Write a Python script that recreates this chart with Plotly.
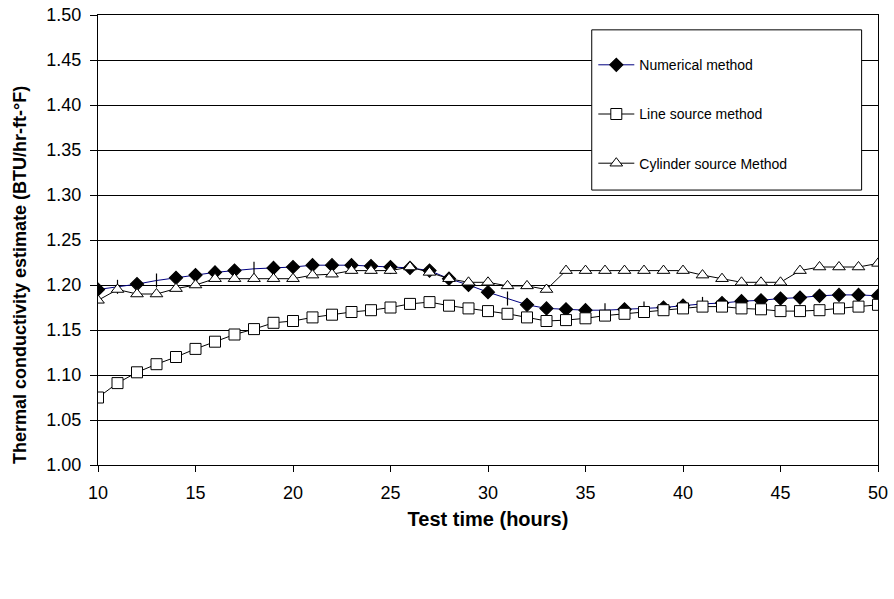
import plotly.graph_objects as go

hours = list(range(10, 51))

numerical = [1.195, 1.198, 1.201, 1.205, 1.208, 1.211, 1.214, 1.216, 1.218, 1.219,
             1.220, 1.222, 1.222, 1.222, 1.221, 1.220, 1.219, 1.216, 1.207, 1.200,
             1.192, 1.185, 1.178, 1.174, 1.173, 1.172, 1.172, 1.173, 1.174, 1.175,
             1.177, 1.179, 1.180, 1.182, 1.183, 1.185, 1.186, 1.188, 1.189, 1.189,
             1.188]
numerical_sym = ["diamond", "line-ns", "diamond", "line-ns", "diamond", "diamond", "diamond",
                 "diamond", "line-ns", "diamond", "diamond", "diamond", "diamond", "diamond",
                 "diamond", "diamond", "diamond", "diamond", "diamond", "diamond", "diamond",
                 "line-ns", "diamond", "diamond", "diamond", "diamond", "line-ns", "diamond",
                 "line-ns", "diamond", "diamond", "line-ns", "diamond", "diamond", "diamond",
                 "diamond", "diamond", "diamond", "diamond", "diamond", "diamond"]

line_source = [1.075, 1.091, 1.103, 1.112, 1.120, 1.129, 1.137, 1.145, 1.151, 1.158,
               1.160, 1.164, 1.167, 1.170, 1.172, 1.175, 1.179, 1.181, 1.177, 1.174,
               1.171, 1.168, 1.164, 1.160, 1.161, 1.163, 1.166, 1.168, 1.170, 1.172,
               1.174, 1.176, 1.176, 1.174, 1.173, 1.171, 1.171, 1.172, 1.174, 1.176,
               1.178]

cylinder = [1.183, 1.195, 1.190, 1.190, 1.196, 1.200, 1.207, 1.207, 1.207, 1.207,
            1.207, 1.211, 1.212, 1.216, 1.216, 1.216, 1.220, 1.214, 1.207, 1.203,
            1.203, 1.199, 1.199, 1.195, 1.216, 1.216, 1.216, 1.216, 1.216, 1.216,
            1.216, 1.211, 1.207, 1.203, 1.203, 1.203, 1.216, 1.220, 1.220, 1.220,
            1.224]

y_ticks = [1.00, 1.05, 1.10, 1.15, 1.20, 1.25, 1.30, 1.35, 1.40, 1.45, 1.50]
x_ticks = [10, 15, 20, 25, 30, 35, 40, 45, 50]

x_title = "Test time (hours)"
y_title = "Thermal conductivity estimate (BTU/hr-ft-°F)"

fig = go.Figure()
fig.add_trace(go.Scatter(
    x=hours, y=numerical, mode="lines+markers", name="Numerical method",
    legendgroup="a",
    line=dict(color="#000080", width=1),
    marker=dict(symbol=numerical_sym, size=10, color="black",
                line=dict(color="black", width=1.2)),
))
fig.add_trace(go.Scatter(
    x=hours, y=line_source, mode="lines+markers", name="Line source method",
    legendgroup="b",
    line=dict(color="black", width=1),
    marker=dict(symbol="square", size=11, color="white",
                line=dict(color="black", width=1)),
))
fig.add_trace(go.Scatter(
    x=hours, y=cylinder, mode="lines+markers", name="Cylinder source Method",
    legendgroup="c",
    line=dict(color="black", width=1),
    marker=dict(symbol="triangle-up", size=11, color="white",
                line=dict(color="black", width=1)),
))

fig.update_layout(
    width=894, height=599,
    margin=dict(l=98, r=16, t=15, b=134, autoexpand=False),
    paper_bgcolor="white", plot_bgcolor="white",
    font=dict(family="Liberation Sans, Arial, sans-serif", size=18, color="black"),
    showlegend=True,
    legend=dict(x=0.635, y=0.924, xanchor="left", yanchor="top",
                borderwidth=0, bgcolor="rgba(0,0,0,0)",
                font=dict(size=14), tracegroupgap=28, itemsizing="trace",
                itemwidth=36, traceorder="grouped"),
    shapes=[dict(
        type="rect", xref="paper", yref="paper",
        x0=0.633, x1=0.979, y0=0.611, y1=0.967,
        line=dict(color="black", width=1), fillcolor="white", layer="above",
    )],
    xaxis=dict(
        range=[10, 50], tickvals=x_ticks, automargin=False,
        showgrid=False, zeroline=False,
        showline=True, linecolor="black", linewidth=1, mirror=True,
        ticks="outside", ticklen=6, tickcolor="black",
        ticklabelstandoff=5, ticklabeloverflow="allow",
        title=dict(text="<b>" + x_title + "</b>", font=dict(size=20), standoff=10),
        tickfont=dict(size=18),
    ),
    yaxis=dict(
        range=[1.0, 1.5], tickvals=y_ticks, automargin=False,
        tickformat=".2f",
        showgrid=True, gridcolor="black", gridwidth=1, zeroline=False,
        showline=True, linecolor="black", linewidth=1, mirror=True,
        ticks="outside", ticklen=7, tickcolor="black",
        ticklabelstandoff=5, ticklabeloverflow="allow",
        tickfont=dict(size=18),
    ),
    annotations=[dict(
        text="<b>" + y_title + "</b>", textangle=-90,
        xref="paper", yref="paper", x=-0.1, y=0.422,
        xanchor="center", yanchor="middle", showarrow=False,
        font=dict(size=18, color="black"),
    )],
)

fig.write_html("out.html", config={"displayModeBar": False},
               post_script="document.body.style.margin='0';")
